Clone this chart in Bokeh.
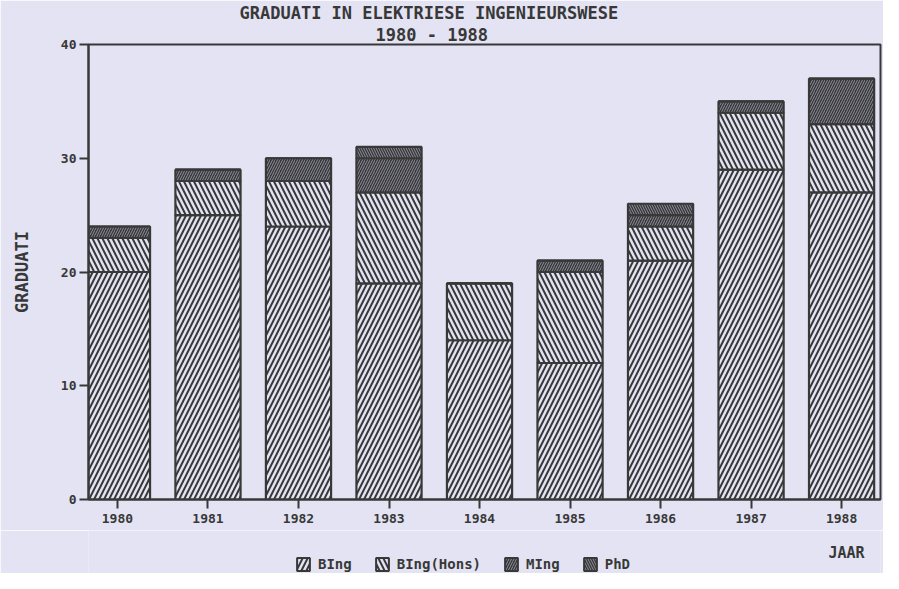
from bokeh.plotting import figure
from bokeh.models import (ColumnDataSource, Range1d, Legend, LegendItem, FixedTicker,
                          Title, Label)
from bokeh.layouts import column
from bokeh.embed import file_html
from bokeh.resources import INLINE

years = ["1980", "1981", "1982", "1983", "1984", "1985", "1986", "1987", "1988"]
bing = [20, 25, 24, 19, 14, 12, 21, 29, 27]
bing_hons = [3, 3, 4, 8, 5, 8, 3, 5, 6]
ming = [1, 1, 2, 3, 0, 1, 1, 1, 4]
phd = [0, 0, 0, 1, 0, 0, 1, 0, 0]
series_names = ["BIng", "BIng(Hons)", "MIng", "PhD"]

BG = "#e3e3f3"
DARK = "#383838"
FONT = "DejaVu Sans Mono"

xs = list(range(len(years)))
b0 = [0] * len(years)
b1 = [a for a in bing]
b2 = [a + b for a, b in zip(bing, bing_hons)]
b3 = [a + b + c for a, b, c in zip(bing, bing_hons, ming)]
b4 = [a + b + c + d for a, b, c, d in zip(bing, bing_hons, ming, phd)]

src = ColumnDataSource(dict(x=xs, b0=b0, b1=b1, b2=b2, b3=b3, b4=b4))

styles = [
    dict(fill_color=BG, hatch_pattern="/", hatch_color=DARK, hatch_scale=10, hatch_weight=2),
    dict(fill_color=BG, hatch_pattern="\\", hatch_color=DARK, hatch_scale=10, hatch_weight=2),
    dict(fill_color="#363636", hatch_pattern="/", hatch_color="#9090a0", hatch_scale=5, hatch_weight=1),
    dict(fill_color="#363636", hatch_pattern="\\", hatch_color="#9090a0", hatch_scale=5, hatch_weight=1),
]

p = figure(width=883, height=530, output_backend="svg", toolbar_location=None,
           x_range=Range1d(-0.32, 8.43), y_range=Range1d(0, 40),
           min_border_left=88, min_border_right=3, min_border_top=43, min_border_bottom=31)
p.background_fill_color = BG
p.border_fill_color = BG
p.outline_line_color = DARK
p.outline_line_width = 2
p.xgrid.visible = False
p.ygrid.visible = False
p.title.visible = False

W = 0.72
bounds = [("b0", "b1"), ("b1", "b2"), ("b2", "b3"), ("b3", "b4")]
for (bot, top), st in zip(bounds, styles):
    p.vbar(x="x", bottom=bot, top=top, source=src, width=W, line_color=DARK,
           line_width=2.2, **st)

# axes
for ax in (p.yaxis, p.xaxis):
    ax.minor_tick_line_color = None
    ax.major_tick_out = 9
    ax.major_tick_in = 0
    ax.major_label_text_font = FONT
    ax.major_label_text_font_style = "bold"
    ax.major_label_text_font_size = "13px"
    ax.major_label_text_color = DARK
    ax.axis_line_color = DARK
    ax.axis_line_width = 2
    ax.major_tick_line_color = DARK
    ax.major_tick_line_width = 2

p.yaxis.ticker = FixedTicker(ticks=[0, 10, 20, 30, 40])
p.yaxis.major_label_standoff = 3
p.yaxis.axis_label = "GRADUATI"
p.yaxis.axis_label_text_font = FONT
p.yaxis.axis_label_text_font_style = "bold"
p.yaxis.axis_label_text_font_size = "17px"
p.yaxis.axis_label_text_color = DARK
p.yaxis.axis_label_standoff = 26

p.xaxis.ticker = FixedTicker(ticks=xs)
p.xaxis.major_label_overrides = {i: y for i, y in enumerate(years)}
p.xaxis.major_label_standoff = 5

# titles
p.add_layout(Title(text="1980 - 1988", align="left", offset=287, standoff=0,
                   text_font=FONT, text_font_style="bold", text_font_size="17px",
                   text_color=DARK), "above")
p.add_layout(Title(text="GRADUATI IN ELEKTRIESE INGENIEURSWESE", align="left", offset=151,
                   standoff=0, text_font=FONT, text_font_style="bold",
                   text_font_size="17px", text_color=DARK), "above")

# bottom strip: axis name and legend (frame aligned with the main plot frame)
q = figure(width=883, height=43, output_backend="svg", toolbar_location=None,
           x_range=Range1d(0, 1), y_range=Range1d(0, 1),
           x_axis_type=None, y_axis_type=None,
           min_border_left=88, min_border_right=3, min_border_top=0, min_border_bottom=0)
q.background_fill_color = BG
q.border_fill_color = BG
q.outline_line_color = None
q.xgrid.visible = False
q.ygrid.visible = False
q.title.visible = False

# swatch-only renderers (not drawn themselves)
dummies = []
for st in styles:
    r = q.vbar(x=[0.5], bottom=[0], top=[1], width=0.1, line_color=DARK,
               line_width=2, **st)
    r.visible = False
    dummies.append(r)

q.add_layout(Label(x=758, y=21, x_units="screen", y_units="screen", text="JAAR",
                   text_align="center", text_baseline="middle", text_font=FONT,
                   text_font_style="bold", text_font_size="15px", text_color=DARK))

legend = Legend(items=[LegendItem(label=n, renderers=[r]) for n, r in zip(series_names, dummies)],
                orientation="horizontal", location=(206, 0),
                label_text_font=FONT, label_text_font_style="bold",
                label_text_font_size="14px", label_text_color=DARK,
                glyph_width=16, glyph_height=16, spacing=22, label_standoff=7,
                background_fill_alpha=0, border_line_alpha=0, margin=0, padding=1,
                inactive_fill_alpha=0)
q.add_layout(legend, "center")

layout = column(p, q, spacing=0)
open("out.html", "w").write(file_html(layout, INLINE))
